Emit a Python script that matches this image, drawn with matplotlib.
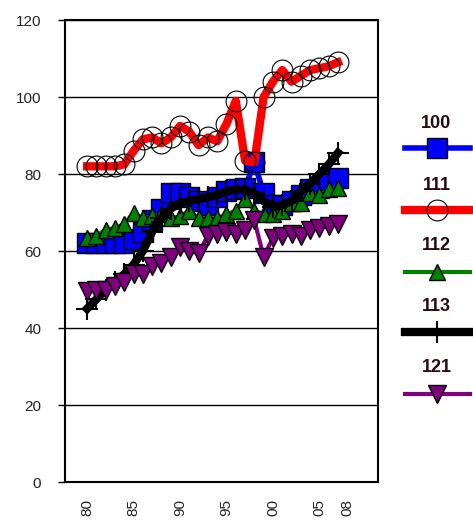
import numpy as np
import matplotlib
matplotlib.use("Agg")
import matplotlib.pyplot as plt
from matplotlib.lines import Line2D

plt.rcParams['font.family'] = ['Liberation Sans', 'DejaVu Sans']

years = list(range(1980, 2008))

s100 = [62, 62, 62, 62, 62, 63, 65, 68, 71, 75, 75, 74, 73, 72, 74, 75.5, 76, 76.5,
        83, 75, 72, 72, 73, 74.5, 76, 76.5, 78.5, 79]
s111 = [82, 82, 82, 82, 82.5, 86, 89, 89.5, 88, 89.5, 92.5, 91, 87.5, 89.5, 88.5, 93,
        99, 83.5, 83, 100, 104, 107, 104, 105.5, 107, 107.5, 108, 109]
s112 = [63.5, 64, 65.5, 66, 67, 70, 68.5, 69, 69.5, 68.5, 69, 70.5, 68.5, 68.5, 68.5,
        69.5, 70.5, 73.5, 70.5, 69.5, 69.5, 70.5, 72.5, 72.5, 75, 74.5, 76, 76.5]
s113 = [45, 47.5, 50, 52, 54, 56.5, 60, 65, 68.5, 71, 72.5, 73, 73.5, 74, 74.5, 75.5,
        76, 76, 75, 73, 71.5, 72, 73, 75.5, 77.5, 80, 82.5, 85.5]
s121 = [49.5, 50, 50, 51, 52, 54, 54, 56, 57, 58.5, 61, 60, 59.5, 64, 64.5, 65, 64.5,
        65.5, 68, 58.5, 63.5, 64, 64.5, 64, 65.5, 66, 66.5, 67]

labels = ["100", "111", "112", "113", "121"]
xticks = [1980, 1985, 1990, 1995, 2000, 2005, 2008]
xticklabels = ["80", "85", "90", "95", "00", "05", "08"]
yticks = [0, 20, 40, 60, 80, 100, 120]

styles = [
    dict(color="#0000ff", lw=4, marker="s", ms=14, mfc="#0000ff", mec="black", mew=1),
    dict(color="#ff0000", lw=6, marker="o", ms=15, mfc="none", mec="black", mew=0.8, ls="-"),
    dict(color="#008000", lw=3, marker="^", ms=12, mfc="#008000", mec="black", mew=1),
    dict(color="black", lw=6, marker="+", ms=16, mfc="black", mec="black", mew=1.5),
    dict(color="#800080", lw=3, marker="v", ms=13, mfc="#800080", mec="black", mew=1),
]
series = [s100, s111, s112, s113, s121]

fig = plt.figure(figsize=(4.73, 5.22), dpi=100)
ax = fig.add_axes([0.137, 0.0766, 0.662, 0.885])

for vals, st in zip(series, styles):
    ax.plot(years, vals, **st)

ax.set_xlim(1977.6, 2011.3)
ax.set_ylim(0, 120)
ax.set_yticks(yticks)
ax.set_yticklabels([str(v) for v in yticks], fontsize=11, color="#222222")
ax.set_xticks(xticks)
ax.set_xticklabels(xticklabels, rotation=90, fontsize=11, color="#222222")
ax.tick_params(axis="x", length=0, pad=12)
ax.tick_params(axis="y", length=5, width=1, pad=12, direction="out")
ax.yaxis.grid(True, color="black", lw=1)
ax.set_axisbelow(True)
for sp in ax.spines.values():
    sp.set_linewidth(1.5)

# legend column on the right
lax = fig.add_axes([0.82, 0.2, 0.18, 0.6])
lax.set_xlim(0, 1)
lax.set_ylim(522 - 0.8 * 522, 522 - 0.2 * 522)
lax.invert_yaxis()
lax.axis("off")
lab_y = [124, 185, 245, 307, 368]
line_y = [148, 210, 272, 332, 394]
for lab, st, ly, ty in zip(labels, styles, line_y, lab_y):
    lax.text(0.57, ty, lab, ha="center", va="center", fontsize=13, fontweight="bold",
             color="#2a0a10")
    lax.add_line(Line2D([0.2, 0.58, 0.96], [ly, ly, ly], markevery=[1], **st))

fig.savefig("out.png", dpi=100)
